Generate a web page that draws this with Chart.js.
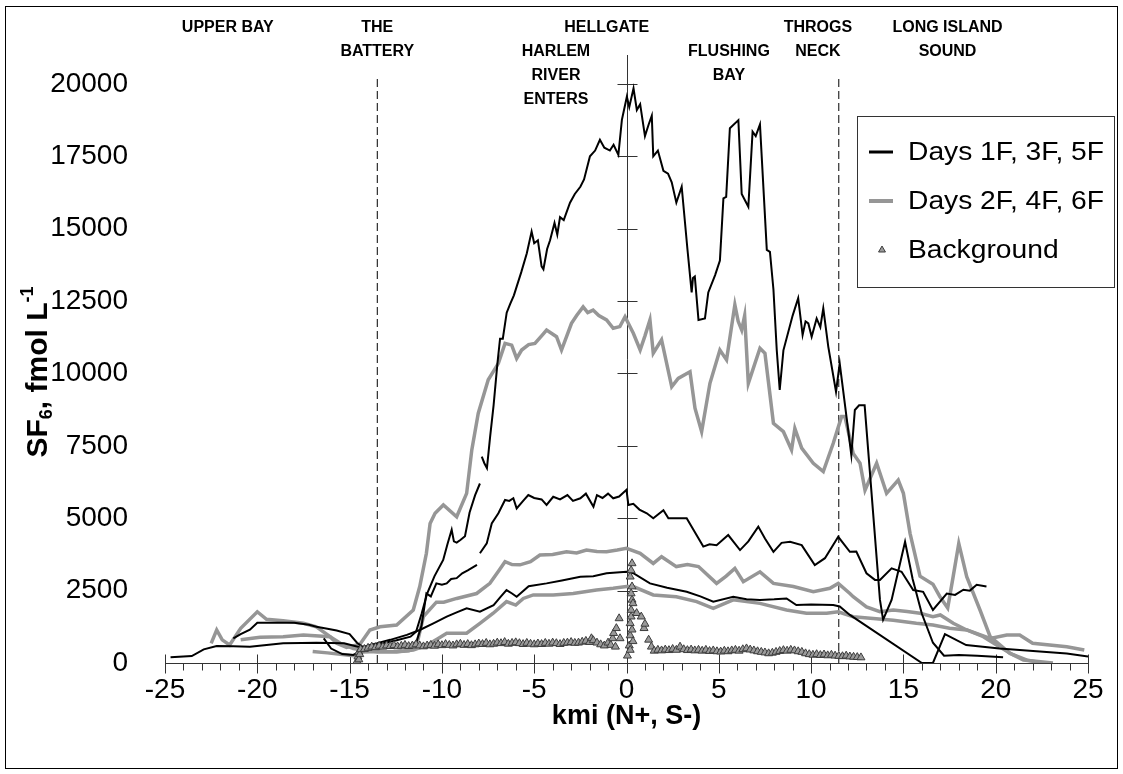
<!DOCTYPE html>
<html>
<head>
<meta charset="utf-8">
<script src="https://cdn.jsdelivr.net/npm/chart.js@4"></script>
<style>
  body { margin: 0; background: #fff; }
  canvas { display: block; }
</style>
</head>
<body>
<canvas id="chart" width="1123" height="774"></canvas>
<script>
// SF6 transects along the East River, [km, fmol/L]; null = gap in the record
var day1f = [
  [-21.3, 850], [-20.9, 1000], [-20.4, 1150], [-20.0, 1390], [-19.0, 1390], [-18.0, 1390], [-17.2, 1320],
  [-16.8, 1250], [-16.2, 1180], [-15.7, 1120], [-15.0, 1000], [-14.6, 700], [-14.25, 540], [-13.8, 600],
  [-13.2, 680], [-12.5, 780], [-11.7, 910], [-11.4, 1080], [-11.1, 1700], [-10.8, 2400], [-10.4, 3000],
  [-9.93, 3560], [-9.7, 4100], [-9.47, 4600], [-9.35, 4200], [-9.2, 4160], [-9.0, 4250], [-8.75, 4380],
  [-8.5, 5200], [-8.2, 5800], [-7.94, 6200], [-7.9, null], [-7.84, 7130], [-7.7, 6900], [-7.56, 6730],
  [-7.39, 7800], [-7.2, 8900], [-7.0, 10300], [-6.85, 11200], [-6.7, 11200], [-6.49, 12100], [-6.3, 12400],
  [-6.1, 12700], [-5.95, 13000], [-5.7, 13500], [-5.4, 14150], [-5.14, 14900], [-5.0, 14500], [-4.8, 14600],
  [-4.6, 13700], [-4.5, 13600], [-4.3, 14300], [-4.14, 14600], [-3.9, 15200], [-3.75, 14800], [-3.6, 15400],
  [-3.4, 15300], [-3.06, 15900], [-2.8, 16200], [-2.5, 16450], [-2.3, 16700], [-1.98, 17500], [-1.7, 17700],
  [-1.44, 18070], [-1.2, 17800], [-0.9, 17700], [-0.7, 17900], [-0.44, 17550], [-0.25, 18760], [0.02, 19560],
  [0.15, 19200], [0.38, 19850], [0.56, 19100], [0.74, 19300], [1.0, 18200], [1.2, 18600], [1.37, 18900],
  [1.45, 17500], [1.7, 17700], [2.0, 17000], [2.25, 16900], [2.45, 16600], [2.7, 15900], [2.99, 16450],
  [3.3, 14300], [3.53, 12800], [3.6, 13300], [3.7, 13350], [3.9, 11850], [4.25, 11900], [4.43, 12800],
  [4.8, 13400], [5.06, 13900], [5.25, 16050], [5.4, 16100], [5.6, 18470], [6.06, 18750], [6.24, 16200],
  [6.6, 15760], [6.83, 18350], [7.0, 18200], [7.23, 18600], [7.6, 14270], [7.77, 14200], [7.96, 12900],
  [8.14, 10800], [8.3, 9430], [8.5, 10800], [9.0, 12000], [9.3, 12600], [9.54, 11330], [9.7, 11800],
  [9.85, 11730], [10.03, 11270], [10.3, 11900], [10.5, 11600], [10.66, 12250], [10.93, 10930], [11.35, 9370],
  [11.55, 10350], [12.18, 7180], [12.37, 8740], [12.6, 8900], [12.9, 8900], [13.73, 2180], [13.9, 1500],
  [14.36, 2180], [15.09, 4190], [15.5, 2900], [16.0, 1700], [16.6, 700], [17.2, 250], [18.0, 280],
  [19.0, 250], [20.4, 200]
];

var day3f = [
  [-16.4, 850], [-16.0, 500], [-15.4, 310], [-14.8, 280], [-14.25, 450], [-13.5, 500], [-12.1, 560],
  [-11.4, 680], [-11.1, 1300], [-10.84, 2400], [-10.6, 2300], [-10.3, 2750], [-10.0, 2700], [-9.74, 2750],
  [-9.5, 2900], [-9.2, 2930], [-8.9, 3100], [-8.6, 3200], [-8.1, 3390], [-8.0, null], [-7.94, 3790],
  [-7.57, 4130], [-7.3, 4820], [-6.94, 5170], [-6.58, 5630], [-6.35, 5600], [-6.13, 5690], [-5.95, 5340],
  [-5.6, 5600], [-5.32, 5800], [-5.0, 5700], [-4.6, 5650], [-4.33, 5460], [-3.97, 5740], [-3.6, 5650],
  [-3.2, 5800], [-2.9, 5600], [-2.5, 5690], [-2.2, 5850], [-1.79, 5400], [-1.6, 5800], [-1.3, 5700],
  [-1.0, 5850], [-0.72, 5690], [-0.4, 5750], [0.0, 5980], [0.1, 5460], [0.37, 5500], [0.7, 5300],
  [1.1, 5170], [1.45, 5000], [2.0, 5280], [2.27, 5000], [3.26, 5000], [4.16, 4020], [4.5, 4100],
  [4.88, 4070], [5.51, 4420], [6.15, 3900], [6.6, 4200], [7.14, 4710], [7.5, 4300], [7.96, 3840],
  [8.4, 4150], [8.86, 4190], [9.49, 4070], [10.2, 3380], [10.75, 3620], [11.47, 4360], [12.1, 3840],
  [12.45, 3850], [13.0, 3100], [13.46, 2870], [13.73, 2870], [14.36, 3270], [14.9, 3150], [15.53, 2520],
  [16.07, 2460], [16.6, 1830], [17.35, 2400], [17.8, 2350], [18.25, 2530], [18.6, 2500], [18.97, 2700],
  [19.5, 2640]
];

var day5f = [
  [-24.7, 200], [-23.55, 240], [-22.9, 470], [-22.2, 590], [-21.3, 580], [-20.4, 560], [-19.5, 620],
  [-18.6, 680], [-17.6, 690], [-16.8, 700], [-15.3, 680], [-14.4, 540], [-13.5, 680], [-12.8, 800],
  [-11.9, 970], [-11.2, 1140], [-10.46, 1370], [-9.74, 1600], [-9.2, 1750], [-8.66, 1890], [-7.94, 1770],
  [-7.2, 2000], [-6.8, 2300], [-6.5, 2520], [-6.2, 2400], [-5.95, 2290], [-5.3, 2650], [-4.33, 2750],
  [-3.5, 2850], [-2.5, 2980], [-1.8, 3000], [-1.08, 3100], [0.0, 3150], [0.37, 3100], [1.27, 2750],
  [2.2, 2600], [3.26, 2460], [4.0, 2300], [4.7, 2120], [5.78, 2290], [6.5, 2200], [7.23, 2180],
  [8.0, 2200], [8.67, 2230], [9.2, 2000], [10.0, 2020], [11.2, 2000], [11.55, 1950], [12.1, 1660],
  [16.0, 0], [16.6, 0], [17.25, 1000], [18.4, 620], [20.2, 500], [23.85, 330], [25.0, 220]
];

var day2f = [
  [-22.5, 680], [-22.2, 1140], [-21.9, 800], [-21.5, 620], [-20.9, 1200], [-20.0, 1770], [-19.5, 1510],
  [-18.6, 1460], [-17.5, 1370], [-16.8, 1250], [-16.06, 910], [-15.7, 680], [-15.16, 540], [-14.44, 650],
  [-13.9, 1140], [-13.35, 1250], [-12.45, 1310], [-11.55, 1830], [-11.2, 2640], [-10.84, 3790],
  [-10.64, 4820], [-10.37, 5170], [-9.92, 5460], [-9.2, 5050], [-8.66, 5860], [-8.38, 7360], [-8.03, 8630],
  [-7.49, 9780], [-6.94, 10350], [-6.58, 11040], [-6.22, 10980], [-5.95, 10520], [-5.68, 10810],
  [-5.3, 11000], [-4.96, 11040], [-4.6, 11300], [-4.33, 11500], [-3.79, 11270], [-3.52, 10810],
  [-2.98, 11730], [-2.7, 12000], [-2.35, 12300], [-2.1, 12100], [-1.81, 12190], [-1.5, 12000],
  [-1.08, 11850], [-0.72, 11560], [-0.36, 11620], [-0.08, 11960], [0.37, 11390], [0.74, 10810],
  [1.0, 11300], [1.27, 11850], [1.45, 10700], [1.9, 11160], [2.45, 9540], [2.8, 9830], [3.44, 10060],
  [3.71, 8800], [4.07, 7990], [4.52, 9660], [5.06, 10810], [5.42, 10470], [5.87, 12370], [6.05, 11800],
  [6.24, 11500], [6.4, 12000], [6.6, 9660], [7.23, 10870], [7.5, 10700], [7.96, 8280], [8.5, 7990],
  [8.94, 7360], [9.12, 8100], [9.49, 7420], [10.12, 6900], [10.66, 6610], [11.2, 7590], [11.65, 8510],
  [11.83, 8510], [12.28, 7240], [12.65, 6900], [12.92, 5970], [13.55, 6900], [14.09, 5860], [14.72, 6320],
  [15.0, 5860], [15.36, 4480], [15.9, 3000], [16.6, 2720], [16.98, 2290], [17.4, 1900], [17.7, 3000],
  [18.0, 4130], [18.43, 2980], [19.15, 1830], [19.7, 910], [20.77, 330], [21.7, 100], [22.3, 30]
];

var day4f = [
  [-17.0, 400], [-16.2, 350], [-15.5, 300], [-14.8, 250], [-14.3, 380], [-13.5, 400], [-12.45, 390],
  [-11.8, 420], [-11.3, 800], [-11.0, 1600], [-10.3, 2100], [-9.9, 2100], [-9.2, 2230], [-8.12, 2400],
  [-7.4, 2750], [-6.9, 3200], [-6.58, 3500], [-6.2, 3400], [-5.77, 3390], [-5.2, 3500], [-4.69, 3730],
  [-4.0, 3750], [-3.25, 3840], [-2.7, 3800], [-2.17, 3900], [-1.6, 3850], [-1.08, 3840], [-0.5, 3900],
  [0.0, 3960], [0.74, 3790], [1.45, 3440], [1.9, 3670], [2.7, 3330], [3.3, 3400], [3.9, 3330],
  [4.88, 2750], [5.4, 3000], [5.87, 3270], [6.33, 2810], [7.23, 3150], [7.96, 2750], [9.04, 2640],
  [10.12, 2460], [11.02, 2580], [11.47, 2750], [12.1, 2400], [12.28, 2290], [13.0, 1940], [13.73, 1770],
  [14.45, 1830], [15.2, 1780], [15.9, 1720], [16.6, 1600], [17.0, 1660], [17.7, 1370], [18.43, 1140],
  [19.7, 850], [20.6, 970], [21.3, 970], [22.0, 680], [23.85, 560], [24.8, 450]
];

var day6f = [
  [-20.9, 800], [-19.85, 890], [-18.6, 910], [-17.5, 970], [-16.06, 910], [-15.5, 680], [-14.8, 500],
  [-13.5, 390], [-12.45, 390], [-11.55, 450], [-10.8, 620], [-10.2, 850], [-9.74, 1030], [-8.66, 1030],
  [-7.94, 1370], [-7.22, 1720], [-6.5, 2120], [-6.0, 2000], [-5.59, 2230], [-5.05, 2350], [-3.97, 2350],
  [-2.89, 2400], [-1.63, 2520], [-0.72, 2580], [0.0, 2640], [0.37, 2640], [1.45, 2350], [2.7, 2290],
  [3.8, 2120], [4.7, 1890], [5.78, 2180], [7.23, 2060], [8.67, 1830], [9.75, 1720], [10.84, 1720],
  [11.47, 1770], [12.28, 1600], [13.37, 1540], [14.45, 1480], [15.7, 1370], [16.6, 1310], [17.5, 1200],
  [18.43, 1140], [19.33, 910], [20.2, 560], [20.95, 280], [21.5, 100], [23.1, 0]
];

var background = [
  [-14.6, 60], [-14.55, 220], [-14.5, 380], [-14.5, 120], [-14.45, 300], [-14.4, 470],
  [-14.2, 480], [-14.0, 520], [-13.8, 560], [-13.6, 540], [-13.4, 590], [-13.2, 560], [-13.0, 600],
  [-12.8, 580], [-12.6, 610], [-12.4, 570], [-12.2, 590], [-12.0, 620], [-11.8, 580], [-11.6, 600],
  [-11.4, 640], [-11.2, 600], [-11.0, 570], [-10.8, 600], [-10.6, 620], [-10.4, 590], [-10.2, 640],
  [-10.0, 610], [-9.8, 650], [-9.6, 620], [-9.4, 600], [-9.2, 640], [-9.0, 660], [-8.8, 620],
  [-8.6, 650], [-8.4, 610], [-8.2, 640], [-8.0, 670], [-7.8, 650], [-7.6, 690], [-7.4, 640],
  [-7.2, 660], [-7.0, 700], [-6.8, 680], [-6.6, 720], [-6.4, 660], [-6.2, 690], [-6.0, 710],
  [-5.8, 680], [-5.6, 650], [-5.4, 690], [-5.2, 660], [-5.0, 640], [-4.8, 670], [-4.6, 650],
  [-4.4, 690], [-4.2, 660], [-4.0, 700], [-3.8, 680], [-3.6, 650], [-3.4, 690], [-3.2, 700],
  [-3.0, 720], [-2.8, 690], [-2.6, 700], [-2.4, 730], [-2.2, 760], [-2.0, 720], [-1.9, 850],
  [-1.8, 780], [-1.6, 700], [-1.4, 640], [-1.2, 600], [-1.0, 700], [-0.85, 620], [-0.75, 850],
  [-0.7, 1030], [-0.6, 560], [-0.55, 1200], [-0.4, 1540], [-0.35, 850],
  [0.05, 250], [0.15, 600], [0.2, 950], [0.2, 1370], [0.25, 1830], [0.3, 2180], [0.25, 2400],
  [0.3, 2640], [0.2, 2980], [0.3, 3440], [0.35, 2060], [0.25, 1600], [0.2, 450], [0.3, 1150],
  [0.35, 750], [0.25, 3200],
  [0.55, 1720], [0.8, 1600], [0.95, 1200], [1.0, 1350], [1.2, 800], [1.35, 560], [1.5, 420],
  [1.7, 450], [1.9, 430], [2.1, 460], [2.3, 440], [2.5, 480], [2.7, 450], [2.9, 560], [3.1, 470],
  [3.3, 440], [3.5, 460], [3.7, 430], [3.9, 450], [4.1, 420], [4.3, 450], [4.5, 410], [4.7, 430],
  [4.9, 400], [5.1, 390], [5.3, 420], [5.5, 400], [5.7, 430], [5.9, 450], [6.1, 420], [6.3, 470],
  [6.5, 500], [6.7, 460], [6.9, 430], [7.1, 400], [7.3, 380], [7.5, 360], [7.7, 330], [7.9, 350],
  [8.1, 380], [8.3, 410], [8.5, 440], [8.7, 420], [8.9, 450], [9.1, 430], [9.3, 400], [9.5, 380],
  [9.7, 330], [9.9, 300], [10.1, 280], [10.3, 300], [10.5, 270], [10.7, 290], [10.9, 260], [11.1, 280],
  [11.3, 250], [11.5, 240], [11.7, 230], [11.9, 250], [12.1, 220], [12.3, 210], [12.5, 200], [12.7, 190]
];

var yTicks = [0, 2500, 5000, 7500, 10000, 12500, 15000, 17500, 20000];

// The Battery and Throgs Neck
var landmarkKm = [-13.5, 11.5];
var landmarkTop = 20300;

// place names over the plot: [km, lines of text]
var places = [
  [-21.6, ['UPPER BAY']],
  [-13.5, ['THE', 'BATTERY']],
  [-1.07, ['HELLGATE']],
  [-3.82, ['', 'HARLEM', 'RIVER', 'ENTERS']],
  [5.55, ['', 'FLUSHING', 'BAY']],
  [10.37, ['THROGS', 'NECK']],
  [17.39, ['LONG ISLAND', 'SOUND']]
];

var legendLabels = ['Days 1F, 3F, 5F', 'Days 2F, 4F, 6F', 'Background'];

var FONT = "'Liberation Sans', Arial, sans-serif";
var BLACK = '#000000';
var GRAY = '#969696';

function pts(rows) {
  return rows.map(function (r) { return { x: r[0], y: r[1] }; });
}

var datasets = [
  {
    type: 'scatter', label: legendLabels[2], data: pts(background),
    pointStyle: 'triangle', pointRadius: 4.6, pointBackgroundColor: '#9a9a9a',
    pointBorderColor: '#3c3c3c', pointBorderWidth: 1, showLine: false, clip: false
  }
];
[day1f, day3f, day5f].forEach(function (d) {
  datasets.push({ label: legendLabels[0], data: pts(d), borderColor: BLACK, borderWidth: 2, pointRadius: 0, spanGaps: false });
});
[day2f, day4f, day6f].forEach(function (d) {
  datasets.push({ label: legendLabels[1], data: pts(d), borderColor: GRAY, borderWidth: 3.5, pointRadius: 0, spanGaps: false });
});
landmarkKm.forEach(function (km) {
  datasets.push({
    label: 'landmark', data: [{ x: km, y: 0 }, { x: km, y: landmarkTop }],
    borderColor: '#000', borderWidth: 1, borderDash: [8, 4], pointRadius: 0
  });
});

function crisp(v) { return Math.round(v) + 0.5; }

var axesPlugin = {
  id: 'crossAxes',
  beforeDatasetsDraw: function (chart) {
    var ctx = chart.ctx, xs = chart.scales.x, ys = chart.scales.y;
    var y0 = crisp(ys.getPixelForValue(0));
    var x0 = crisp(xs.getPixelForValue(0));
    ctx.save();
    ctx.strokeStyle = '#333';
    ctx.lineWidth = 1;
    ctx.beginPath();
    // horizontal axis: major ticks cross it, minor ticks hang below
    ctx.moveTo(xs.getPixelForValue(-25), y0);
    ctx.lineTo(xs.getPixelForValue(25), y0);
    for (var k = -25; k <= 25; k++) {
      var px = crisp(xs.getPixelForValue(k));
      if (k % 5 === 0) { ctx.moveTo(px, y0 - 9); ctx.lineTo(px, y0 + 10); }
      else { ctx.moveTo(px, y0); ctx.lineTo(px, y0 + 7); }
    }
    // vertical axis drawn at km 0
    ctx.moveTo(x0, y0);
    ctx.lineTo(x0, chart.chartArea.top);
    yTicks.forEach(function (v) {
      var py = crisp(ys.getPixelForValue(v));
      ctx.moveTo(x0 - 10, py); ctx.lineTo(x0 + 10, py);
    });
    ctx.stroke();
    ctx.restore();
  }
};

var decorPlugin = {
  id: 'decor',
  afterDraw: function (chart) {
    var ctx = chart.ctx, xs = chart.scales.x;
    ctx.save();
    ctx.fillStyle = '#000';

    // place names
    ctx.font = 'bold 16px ' + FONT;
    ctx.textAlign = 'center';
    ctx.textBaseline = 'middle';
    places.forEach(function (p) {
      var cx = xs.getPixelForValue(p[0]);
      p[1].forEach(function (line, i) {
        if (line) ctx.fillText(line, cx, 28 + i * 24);
      });
    });

    // y title with sub/superscript
    ctx.save();
    ctx.translate(39, 372);
    ctx.rotate(-Math.PI / 2);
    var big = 'bold 30px ' + FONT, small = 'bold 18px ' + FONT;
    var parts = [['SF', big, 0], ['6', small, 8], [', fmol L', big, 0], ['-1', small, -11]];
    var total = 0;
    parts.forEach(function (p) { ctx.font = p[1]; total += ctx.measureText(p[0]).width; });
    var cx = -total / 2;
    ctx.textAlign = 'left';
    ctx.textBaseline = 'middle';
    parts.forEach(function (p) {
      ctx.font = p[1];
      ctx.fillText(p[0], cx, p[2]);
      cx += ctx.measureText(p[0]).width;
    });
    ctx.restore();

    // legend box
    var lx = 857, ly = 116, lw = 257, lh = 171;
    ctx.fillStyle = '#fff';
    ctx.fillRect(lx, ly, lw, lh);
    ctx.strokeStyle = '#333';
    ctx.lineWidth = 1;
    ctx.strokeRect(lx + 0.5, ly + 0.5, lw, lh);
    var rows = [152, 201, 250];
    ctx.lineWidth = 3;
    ctx.strokeStyle = BLACK;
    ctx.beginPath(); ctx.moveTo(869, rows[0]); ctx.lineTo(893, rows[0]); ctx.stroke();
    ctx.lineWidth = 4;
    ctx.strokeStyle = GRAY;
    ctx.beginPath(); ctx.moveTo(869, rows[1]); ctx.lineTo(893, rows[1]); ctx.stroke();
    ctx.fillStyle = '#9a9a9a';
    ctx.strokeStyle = '#3c3c3c';
    ctx.lineWidth = 1;
    Chart.helpers.drawPoint(ctx, { pointStyle: 'triangle', radius: 4, borderWidth: 1 }, 882, rows[2]);
    ctx.fillStyle = '#000';
    ctx.font = '25px ' + FONT;
    ctx.textAlign = 'left';
    ctx.textBaseline = 'middle';
    // legend text is set a little wide, filling the box
    var widest = Math.max.apply(null, legendLabels.map(function (t) { return ctx.measureText(t).width; }));
    var sx = 196 / widest;
    legendLabels.forEach(function (t, i) {
      ctx.save();
      ctx.translate(908, rows[i] + 1);
      ctx.scale(sx, 1);
      ctx.fillText(t, 0, 0);
      ctx.restore();
    });

    // outer frame
    ctx.strokeStyle = '#000';
    ctx.lineWidth = 1;
    ctx.strokeRect(5.5, 6.5, 1112, 762);
    ctx.restore();
  }
};

new Chart(document.getElementById('chart'), {
  type: 'line',
  data: { datasets: datasets },
  options: {
    responsive: false,
    animation: false,
    layout: { padding: { left: 0, right: 35, top: 55, bottom: 0 } },
    elements: { line: { tension: 0 } },
    plugins: { legend: { display: false }, tooltip: { enabled: false } },
    scales: {
      x: {
        type: 'linear', min: -25, max: 25,
        grid: { display: false, drawTicks: false },
        border: { display: false },
        ticks: { stepSize: 5, padding: 10, color: '#000', font: { family: FONT, size: 28 } },
        title: {
          display: true, text: 'kmi (N+, S-)', color: '#000',
          font: { family: FONT, size: 27, weight: 'bold' },
          padding: { top: 0, bottom: 41 }
        },
        afterFit: function (s) { s.height = 111; }
      },
      y: {
        type: 'linear', min: 0, max: 21000,
        grid: { display: false, drawTicks: false },
        border: { display: false },
        afterBuildTicks: function (s) { s.ticks = yTicks.map(function (v) { return { value: v }; }); },
        ticks: {
          padding: 37, color: '#000', font: { family: FONT, size: 28 },
          callback: function (v) { return String(v); }
        },
        afterFit: function (s) { s.width = 165; }
      }
    }
  },
  plugins: [axesPlugin, decorPlugin]
});
</script>
</body>
</html>
